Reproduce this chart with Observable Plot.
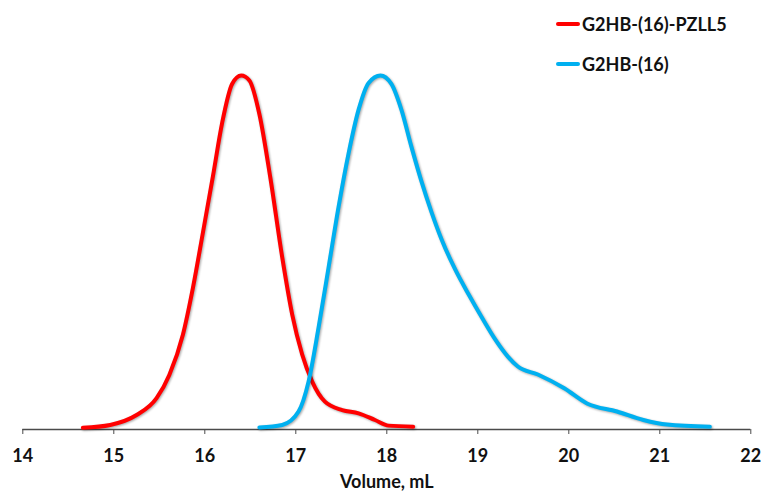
<!DOCTYPE html>
<html>
<head>
<meta charset="utf-8">
<script src="https://cdn.jsdelivr.net/npm/d3@7"></script>
<script src="https://cdn.jsdelivr.net/npm/@observablehq/plot@0.6"></script>
<style>
  html, body { margin: 0; padding: 0; background: #fff; }
  #wrap { position: relative; width: 767px; height: 496px; font-family: Lato, "Open Sans", sans-serif; }
  .leg { position: absolute; left: 556px; display: flex; align-items: center; font-weight: 700; font-size: 18px; color: #111; white-space: nowrap; }
  .sw { width: 24px; height: 4px; border-radius: 2px; margin-right: 2px; }
  svg .curve path { filter: drop-shadow(1px 1.5px 1px rgba(0,0,0,0.35)); }
</style>
</head>
<body>
<div id="wrap"></div>
<script>
// Series names and colours
const seriesNames = ["G2HB-(16)-PZLL5", "G2HB-(16)"];
const seriesColors = ["#ff0000", "#00b0f0"];

// G2HB-(16)-PZLL5 (red): elution volume (mL) and normalised signal
const redVolume = [14.66, 14.96, 15.25, 15.47, 15.61, 15.76, 15.87, 15.98, 16.09, 16.19, 16.30, 16.40, 16.49, 16.60, 16.72, 16.85, 16.96, 17.07, 17.18, 17.32, 17.51, 17.69, 17.87, 18.02, 18.29];
const redSignal = [0, 0.8, 3.6, 8.4, 15, 26.5, 39.8, 55.5, 71.5, 86.5, 97.6, 100, 98.6, 89, 71, 48.5, 32.2, 20.8, 13.1, 7.4, 5, 4.1, 2.2, 0.6, 0.3];

// G2HB-(16) (blue)
const blueVolume = [16.60, 16.85, 17.03, 17.14, 17.25, 17.36, 17.47, 17.58, 17.69, 17.80, 17.93, 18.05, 18.16, 18.27, 18.38, 18.49, 18.60, 18.75, 18.90, 19.04, 19.18, 19.33, 19.44, 19.66, 19.95, 20.20, 20.53, 20.82, 21.08, 21.55];
const blueSignal = [0.1, 0.8, 4.6, 13.1, 28.4, 45.5, 62.7, 77.9, 90.3, 97.9, 100, 97.6, 90.3, 79.8, 70.0, 61.3, 53.6, 45.0, 37.8, 31.5, 25.5, 20.2, 17.4, 15.1, 11.2, 6.9, 4.6, 2.2, 0.9, 0.3];

// x-axis tick values
const xTicks = [14, 15, 16, 17, 18, 19, 20, 21, 22];
const xLabel = "Volume, mL";

const red = redVolume.map((v, i) => ({x: v, y: redSignal[i], s: seriesNames[0]}));
const blue = blueVolume.map((v, i) => ({x: v, y: blueSignal[i], s: seriesNames[1]}));

const chart = Plot.plot({
  width: 767,
  height: 496,
  marginLeft: 22.3,
  marginRight: 16.7,
  marginTop: 75,
  marginBottom: 67,
  style: {fontFamily: "Lato, 'Open Sans', sans-serif", fontSize: "18px", fontWeight: 700, color: "#111", background: "#fff"},
  x: {domain: [14, 22], ticks: xTicks, label: null},
  y: {domain: [-0.5, 100], axis: null},
  marks: [
    Plot.ruleY([-0.5], {stroke: "#4a4a4a", strokeWidth: 1.5}),
    Plot.axisX({ticks: xTicks, tickSize: 5, tickPadding: 15, stroke: "#4a4a4a", fontSize: 18, fontWeight: 700, label: xLabel, labelAnchor: "center", labelOffset: 58, labelArrow: "none"}),
    Plot.line(red, {x: "x", y: "y", stroke: seriesColors[0], strokeWidth: 4, curve: "monotone-x", className: "curve"}),
    Plot.line(blue, {x: "x", y: "y", stroke: seriesColors[1], strokeWidth: 4, curve: "monotone-x", className: "curve"})
  ]
});
const wrap = document.getElementById("wrap");
wrap.appendChild(chart);

// legend
const legTops = [13, 53];
seriesNames.forEach((n, i) => {
  const d = document.createElement("div");
  d.className = "leg";
  d.style.top = legTops[i] + "px";
  const sw = document.createElement("span");
  sw.className = "sw";
  sw.style.background = seriesColors[i];
  d.appendChild(sw);
  d.appendChild(document.createTextNode(n));
  wrap.appendChild(d);
});
</script>
</body>
</html>
